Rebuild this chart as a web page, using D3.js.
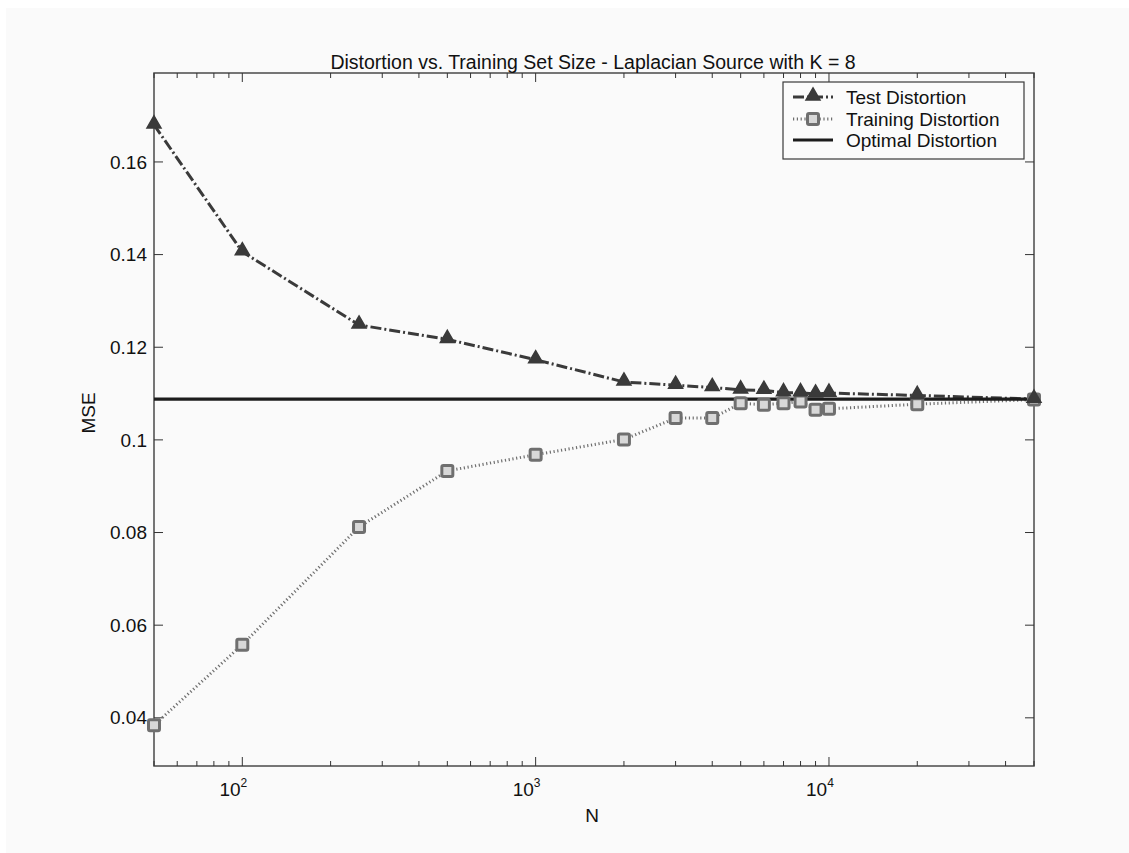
<!DOCTYPE html>
<html>
<head>
<meta charset="utf-8">
<script src="https://cdn.jsdelivr.net/npm/d3@7"></script>
<style>
  body { margin: 0; background: #ffffff; }
  svg { display: block; font-family: Arial, "Liberation Sans", sans-serif; }
</style>
</head>
<body>
<div id="chart"></div>
<script>
// Data
const trainSizes = [50, 100, 250, 500, 1000, 2000, 3000, 4000, 5000, 6000, 7000, 8000, 9000, 10000, 20000, 50000];
const testDistortion = [0.168, 0.1406, 0.1248, 0.1217, 0.1173, 0.1125, 0.1118, 0.1113, 0.1108, 0.1107, 0.1102, 0.1102, 0.1099, 0.1101, 0.1096, 0.1088];
const trainDistortion = [0.0384, 0.0558, 0.0812, 0.0933, 0.0968, 0.1001, 0.1047, 0.1047, 0.1079, 0.1076, 0.1079, 0.1083, 0.1065, 0.1067, 0.1077, 0.1087];
const optimalDistortion = 0.1088;
const yTicks = [0.04, 0.06, 0.08, 0.1, 0.12, 0.14, 0.16];
const xMajorTicks = [100, 1000, 10000];
const legendLabels = ["Test Distortion", "Training Distortion", "Optimal Distortion"];

const W = 1129, H = 853;
const margin = {top: 73, right: 95, bottom: 87, left: 154};
const width = W - margin.left - margin.right;   // 880
const height = H - margin.top - margin.bottom;  // 693

const svg = d3.select("#chart").append("svg")
    .attr("width", W).attr("height", H);

// light grey figure background
svg.append("rect").attr("x", 6).attr("y", 8).attr("width", W - 6).attr("height", H - 8)
    .attr("fill", "#fafafa");

const g = svg.append("g").attr("transform", `translate(${margin.left},${margin.top})`);

const x = d3.scaleLog().domain([50, 50000]).range([0, width]);
const y = d3.scaleLinear().domain([0.0296, 0.1792]).range([height, 0]);

// minor log ticks
const minorTicks = [];
for (let p = 1; p <= 4; p++) {
    for (let m = 2; m <= 9; m++) {
        const v = m * Math.pow(10, p);
        if (v >= 50 && v <= 50000) minorTicks.push(v);
    }
}

// Axes box
g.append("rect").attr("width", width).attr("height", height)
    .attr("fill", "none").attr("stroke", "#4a4a4a").attr("stroke-width", 1.5);

const tickColor = "#333";
// x ticks bottom and top
minorTicks.forEach(v => {
    [[height, -5], [0, 5]].forEach(([y0, len]) => {
        g.append("line").attr("x1", x(v)).attr("x2", x(v)).attr("y1", y0).attr("y2", y0 + len)
            .attr("stroke", tickColor).attr("stroke-width", 1);
    });
});
xMajorTicks.forEach(v => {
    [[height, -9], [0, 9]].forEach(([y0, len]) => {
        g.append("line").attr("x1", x(v)).attr("x2", x(v)).attr("y1", y0).attr("y2", y0 + len)
            .attr("stroke", tickColor).attr("stroke-width", 1);
    });
    const t = g.append("text").attr("x", x(v) - 9).attr("y", height + 30)
        .attr("text-anchor", "middle").attr("font-size", 19).attr("fill", "#111");
    t.append("tspan").text("10");
    t.append("tspan").attr("dy", -9).attr("font-size", 12).text(Math.round(Math.log10(v)));
});

// y ticks left and right
yTicks.forEach(v => {
    [[0, 9], [width, -9]].forEach(([x0, len]) => {
        g.append("line").attr("x1", x0).attr("x2", x0 + len).attr("y1", y(v)).attr("y2", y(v))
            .attr("stroke", tickColor).attr("stroke-width", 1);
    });
    g.append("text").attr("x", -7).attr("y", y(v)).attr("dy", "0.35em")
        .attr("text-anchor", "end").attr("font-size", 19).attr("fill", "#111")
        .text(d3.format("")(v));
});

// Labels
svg.append("text").attr("x", margin.left + width / 2 - 1).attr("y", 69)
    .attr("text-anchor", "middle").attr("font-size", 19.5).attr("fill", "#111")
    .text("Distortion vs. Training Set Size - Laplacian Source with K = 8");
svg.append("text").attr("x", margin.left + width / 2 - 2).attr("y", 822)
    .attr("text-anchor", "middle").attr("font-size", 19).attr("fill", "#111").text("N");
svg.append("text").attr("transform", "translate(95,413)rotate(-90)")
    .attr("text-anchor", "middle").attr("font-size", 19).attr("fill", "#111").text("MSE");

// Series
const line = d3.line().x(d => x(d[0])).y(d => y(d[1]));
const testPts = trainSizes.map((n, i) => [n, testDistortion[i]]);
const trainPts = trainSizes.map((n, i) => [n, trainDistortion[i]]);

const testColor = "#3a3a3a", trainColor = "#6f6f6f", optColor = "#1c1c1c";

g.append("path").datum(trainPts).attr("d", line)
    .attr("fill", "none").attr("stroke", trainColor).attr("stroke-width", 3)
    .attr("stroke-dasharray", "1.2,2.6");
g.append("path").datum(testPts).attr("d", line)
    .attr("fill", "none").attr("stroke", testColor).attr("stroke-width", 3)
    .attr("stroke-dasharray", "11,3,2,3");
g.append("line").attr("x1", 0).attr("x2", width).attr("y1", y(optimalDistortion)).attr("y2", y(optimalDistortion))
    .attr("stroke", optColor).attr("stroke-width", 3.2);

const tri = d3.symbol().type(d3.symbolTriangle).size(85);
function drawSquare(sel, cx, cy) {
    sel.append("rect").attr("x", cx - 5.5).attr("y", cy - 5.5).attr("width", 11).attr("height", 11)
        .attr("rx", 1.5).attr("fill", "#d8d8d8").attr("stroke", trainColor).attr("stroke-width", 3);
}
trainPts.forEach(d => drawSquare(g, x(d[0]), y(d[1])));
g.selectAll(".tri").data(testPts).enter().append("path").attr("class", "tri")
    .attr("d", tri).attr("transform", d => `translate(${x(d[0])},${y(d[1]) - 1})`)
    .attr("fill", testColor).attr("stroke", testColor).attr("stroke-width", 1.5);

// Legend
const lg = svg.append("g").attr("transform", "translate(783,82)");
lg.append("rect").attr("width", 241).attr("height", 77)
    .attr("fill", "#fbfbfb").attr("stroke", "#3a3a3a").attr("stroke-width", 1.2);
const rowY = [15, 37, 58];
lg.append("line").attr("x1", 10).attr("x2", 50).attr("y1", rowY[0]).attr("y2", rowY[0])
    .attr("stroke", testColor).attr("stroke-width", 3).attr("stroke-dasharray", "11,3,2,3");
lg.append("path").attr("d", tri).attr("transform", `translate(30,${rowY[0] - 1})`)
    .attr("fill", testColor).attr("stroke", testColor).attr("stroke-width", 1.5);
lg.append("line").attr("x1", 10).attr("x2", 50).attr("y1", rowY[1]).attr("y2", rowY[1])
    .attr("stroke", trainColor).attr("stroke-width", 3).attr("stroke-dasharray", "1.2,2.6");
drawSquare(lg, 30, rowY[1]);
lg.append("line").attr("x1", 10).attr("x2", 50).attr("y1", rowY[2]).attr("y2", rowY[2])
    .attr("stroke", optColor).attr("stroke-width", 3.2);
legendLabels.forEach((t, i) => {
    lg.append("text").attr("x", 63).attr("y", rowY[i]).attr("dy", "0.35em")
        .attr("font-size", 19).attr("fill", "#111").text(t);
});
</script>
</body>
</html>
